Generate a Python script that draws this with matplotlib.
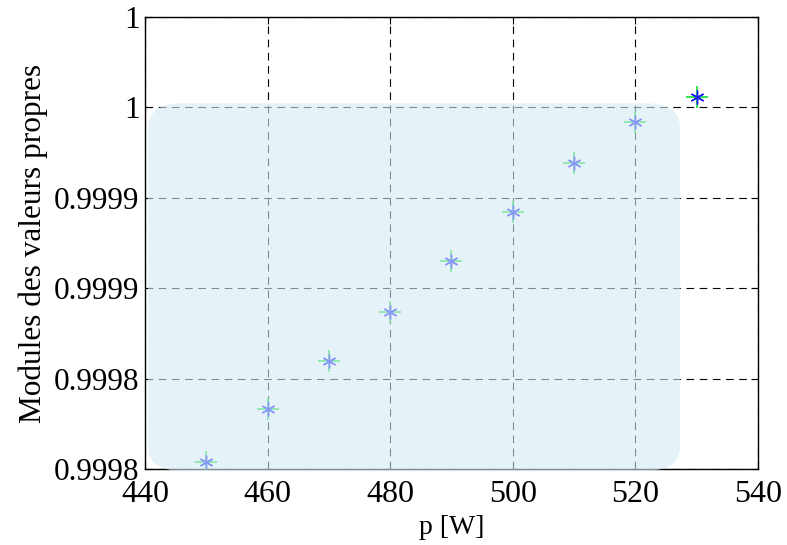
import matplotlib
matplotlib.use("Agg")
import matplotlib.pyplot as plt
from matplotlib.patches import FancyBboxPatch
from matplotlib.ticker import FormatStrFormatter
import numpy as np

power_w = [450, 460, 470, 480, 490, 500, 510, 520, 530]
eig_modulus = [0.999784, 0.999813, 0.999840, 0.999867, 0.999895,
               0.999922, 0.999949, 0.999972, 0.999986]
y_ticks = [0.99978, 0.99983, 0.99988, 0.99993, 0.99998, 1.00003]
x_ticks = [440, 460, 480, 500, 520, 540]

plt.rcParams['font.family'] = ['Liberation Serif', 'DejaVu Serif']
plt.rcParams['lines.scale_dashes'] = False

fig = plt.figure(figsize=(7.87, 5.45), dpi=100)
ax = fig.add_axes([145/787, 1 - 469/545, (758-145)/787, (469-17)/545])

ax.set_xlim(440, 540)
ax.set_ylim(y_ticks[0], y_ticks[-1])
ax.set_xticks(x_ticks)
ax.set_yticks(y_ticks)
ax.yaxis.set_major_formatter(FormatStrFormatter('%.4g'))
ax.tick_params(direction='in', length=5, width=0.8, labelsize=23, top=True, right=True)
ax.tick_params(axis='x', pad=8)
ax.tick_params(axis='y', pad=4, labelsize=22.5)
for s in ax.spines.values():
    s.set_linewidth(1.0)

ax.grid(True, color='black', linewidth=0.8, dashes=(5.5, 4.0))
ax.set_axisbelow(True)

ax.plot(power_w, eig_modulus, linestyle='none', marker='+', markersize=16,
        markeredgewidth=1.2, color='#11dd33', zorder=3)
ax.plot(power_w, eig_modulus, linestyle='none', marker=(6, 2, 0), markersize=10,
        markeredgewidth=1.0, color='#1a1aff', zorder=4)

box = FancyBboxPatch((0.005, -0.004), 0.868, 0.813,
                     boxstyle='round,pad=0,rounding_size=0.055',
                     mutation_aspect=(758-145)/(469-17) * 0.74,
                     transform=ax.transAxes, facecolor='#d4ecf4',
                     edgecolor='none', alpha=0.6, zorder=5, clip_on=False)
ax.add_patch(box)

ax.set_xlabel('p [W]', fontsize=20, labelpad=4)
ax.set_ylabel('Modules des valeurs propres', fontsize=22.5, labelpad=4)

fig.savefig('out.png', dpi=100)
